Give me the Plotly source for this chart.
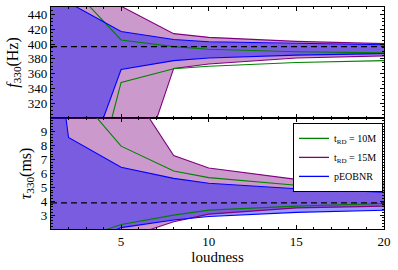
import plotly.graph_objects as go
from plotly.subplots import make_subplots

loudness = [1, 2, 5, 8, 10, 15, 20]

# f330 (Hz) bands
f_eob_hi = [470, 456, 417, 406, 403, 400.5, 399]
f_eob_lo = [150, 171, 365.5, 377.5, 381, 385, 387]
f_10_hi = [510, 481, 405.5, 396.5, 393, 389.5, 388]
f_10_lo = [50, 75, 348, 366.5, 370, 375, 377.5]
f_15_hi = [520, 500, 451, 414, 409, 403.5, 400.5]
f_15_lo = [80, 100, 157, 367, 373, 381, 384]
f_true = 396.4

# tau330 (ms) bands
t_eob_hi = [18, 8.6, 6.45, 5.65, 5.3, 4.9, 4.65]
t_eob_lo = [0.3, 0.5, 2.1, 2.65, 2.9, 3.2, 3.35]
t_10_hi = [14, 12.4, 7.97, 6.18, 5.7, 5.15, 4.96]
t_10_lo = [0.5, 1.0, 2.33, 3.0, 3.36, 3.65, 3.84]
t_15_hi = [22, 19, 13.1, 7.3, 6.4, 5.58, 5.32]
t_15_lo = [0.3, 0.5, 1.27, 2.52, 3.07, 3.52, 3.65]
t_true = 3.88

series_names = ["t<sub>RD</sub> = 10M", "t<sub>RD</sub> = 15M", "pEOBNR"]
f_ticks = [320, 340, 360, 380, 400, 420, 440]
t_ticks = [3, 4, 5, 6, 7, 8, 9]
x_ticks = [5, 10, 15, 20]

GREEN = "rgb(0,128,0)"
PURPLE = "rgb(128,0,128)"
BLUE = "rgb(0,0,255)"
FONT = "Liberation Serif"

fig = make_subplots(rows=2, cols=1, shared_xaxes=True, vertical_spacing=0)


def band(row, hi, lo, fillcol):
    fig.add_trace(go.Scatter(x=loudness + loudness[::-1], y=hi + lo[::-1],
                             fill="toself", fillcolor=fillcol, mode="none",
                             showlegend=False, hoverinfo="skip"), row=row, col=1)


def line(row, y, col):
    fig.add_trace(go.Scatter(x=loudness, y=y, mode="lines",
                             line=dict(color=col, width=1.1),
                             showlegend=False), row=row, col=1)


for row, (e_hi, e_lo, a_hi, a_lo, b_hi, b_lo) in enumerate([
        (f_eob_hi, f_eob_lo, f_10_hi, f_10_lo, f_15_hi, f_15_lo),
        (t_eob_hi, t_eob_lo, t_10_hi, t_10_lo, t_15_hi, t_15_lo)], start=1):
    band(row, b_hi, b_lo, "rgba(128,0,128,0.4)")
    band(row, e_hi, e_lo, "rgba(0,0,255,0.4)")
    line(row, b_hi, PURPLE)
    line(row, b_lo, PURPLE)
    line(row, a_hi, GREEN)
    line(row, a_lo, GREEN)
    line(row, e_hi, BLUE)
    line(row, e_lo, BLUE)

for row, yv in [(1, f_true), (2, t_true)]:
    fig.add_trace(go.Scatter(x=[loudness[0], loudness[-1]], y=[yv, yv], mode="lines",
                             line=dict(color="black", width=1.2, dash="6px,4px"),
                             showlegend=False), row=row, col=1)

for name, col in zip(series_names, [GREEN, PURPLE, BLUE]):
    fig.add_trace(go.Scatter(x=[None], y=[None], mode="lines", name=name,
                             line=dict(color=col, width=1.3)), row=2, col=1)

axis_common = dict(showline=True, linecolor="black", linewidth=1.2, mirror="allticks",
                   ticks="inside", ticklen=4, tickcolor="black", tickwidth=1,
                   showgrid=False, zeroline=False,
                   tickfont=dict(family=FONT, size=13, color="black"))

fig.update_xaxes(range=[1, 20], tickvals=x_ticks,
                 minor=dict(ticks="inside", ticklen=2, dtick=1, tick0=0, tickcolor="black"),
                 **axis_common)
fig.update_xaxes(showticklabels=False, row=1, col=1)
fig.update_xaxes(title=dict(text="loudness", font=dict(family=FONT, size=15, color="black"),
                            standoff=3), row=2, col=1)

fig.update_yaxes(range=[300, 450], tickvals=f_ticks,
                 minor=dict(ticks="inside", ticklen=2, dtick=5, tick0=0, tickcolor="black"),
                 title=dict(text="<i>f</i><sub>330</sub>(Hz)",
                            font=dict(family=FONT, size=16, color="black"), standoff=5),
                 row=1, col=1, **axis_common)
fig.update_yaxes(range=[2, 10], tickvals=t_ticks,
                 minor=dict(ticks="inside", ticklen=2, dtick=0.2, tick0=0, tickcolor="black"),
                 title=dict(text="<i>τ</i><sub>330</sub>(ms)",
                            font=dict(family=FONT, size=16, color="black"), standoff=5),
                 row=2, col=1, **axis_common)

fig.update_layout(
    width=398, height=270,
    margin=dict(l=51, r=14, t=7, b=41),
    paper_bgcolor="white", plot_bgcolor="white",
    showlegend=True,
    legend=dict(x=0.997, y=0.478, xanchor="right", yanchor="top",
                bgcolor="white", bordercolor="black", borderwidth=1,
                font=dict(family=FONT, size=10, color="black"),
                itemwidth=30, tracegroupgap=0),
)

fig.write_html("out.html", config={"displayModeBar": False},
               post_script="document.body.style.margin='0px';document.body.style.overflow='hidden';")
